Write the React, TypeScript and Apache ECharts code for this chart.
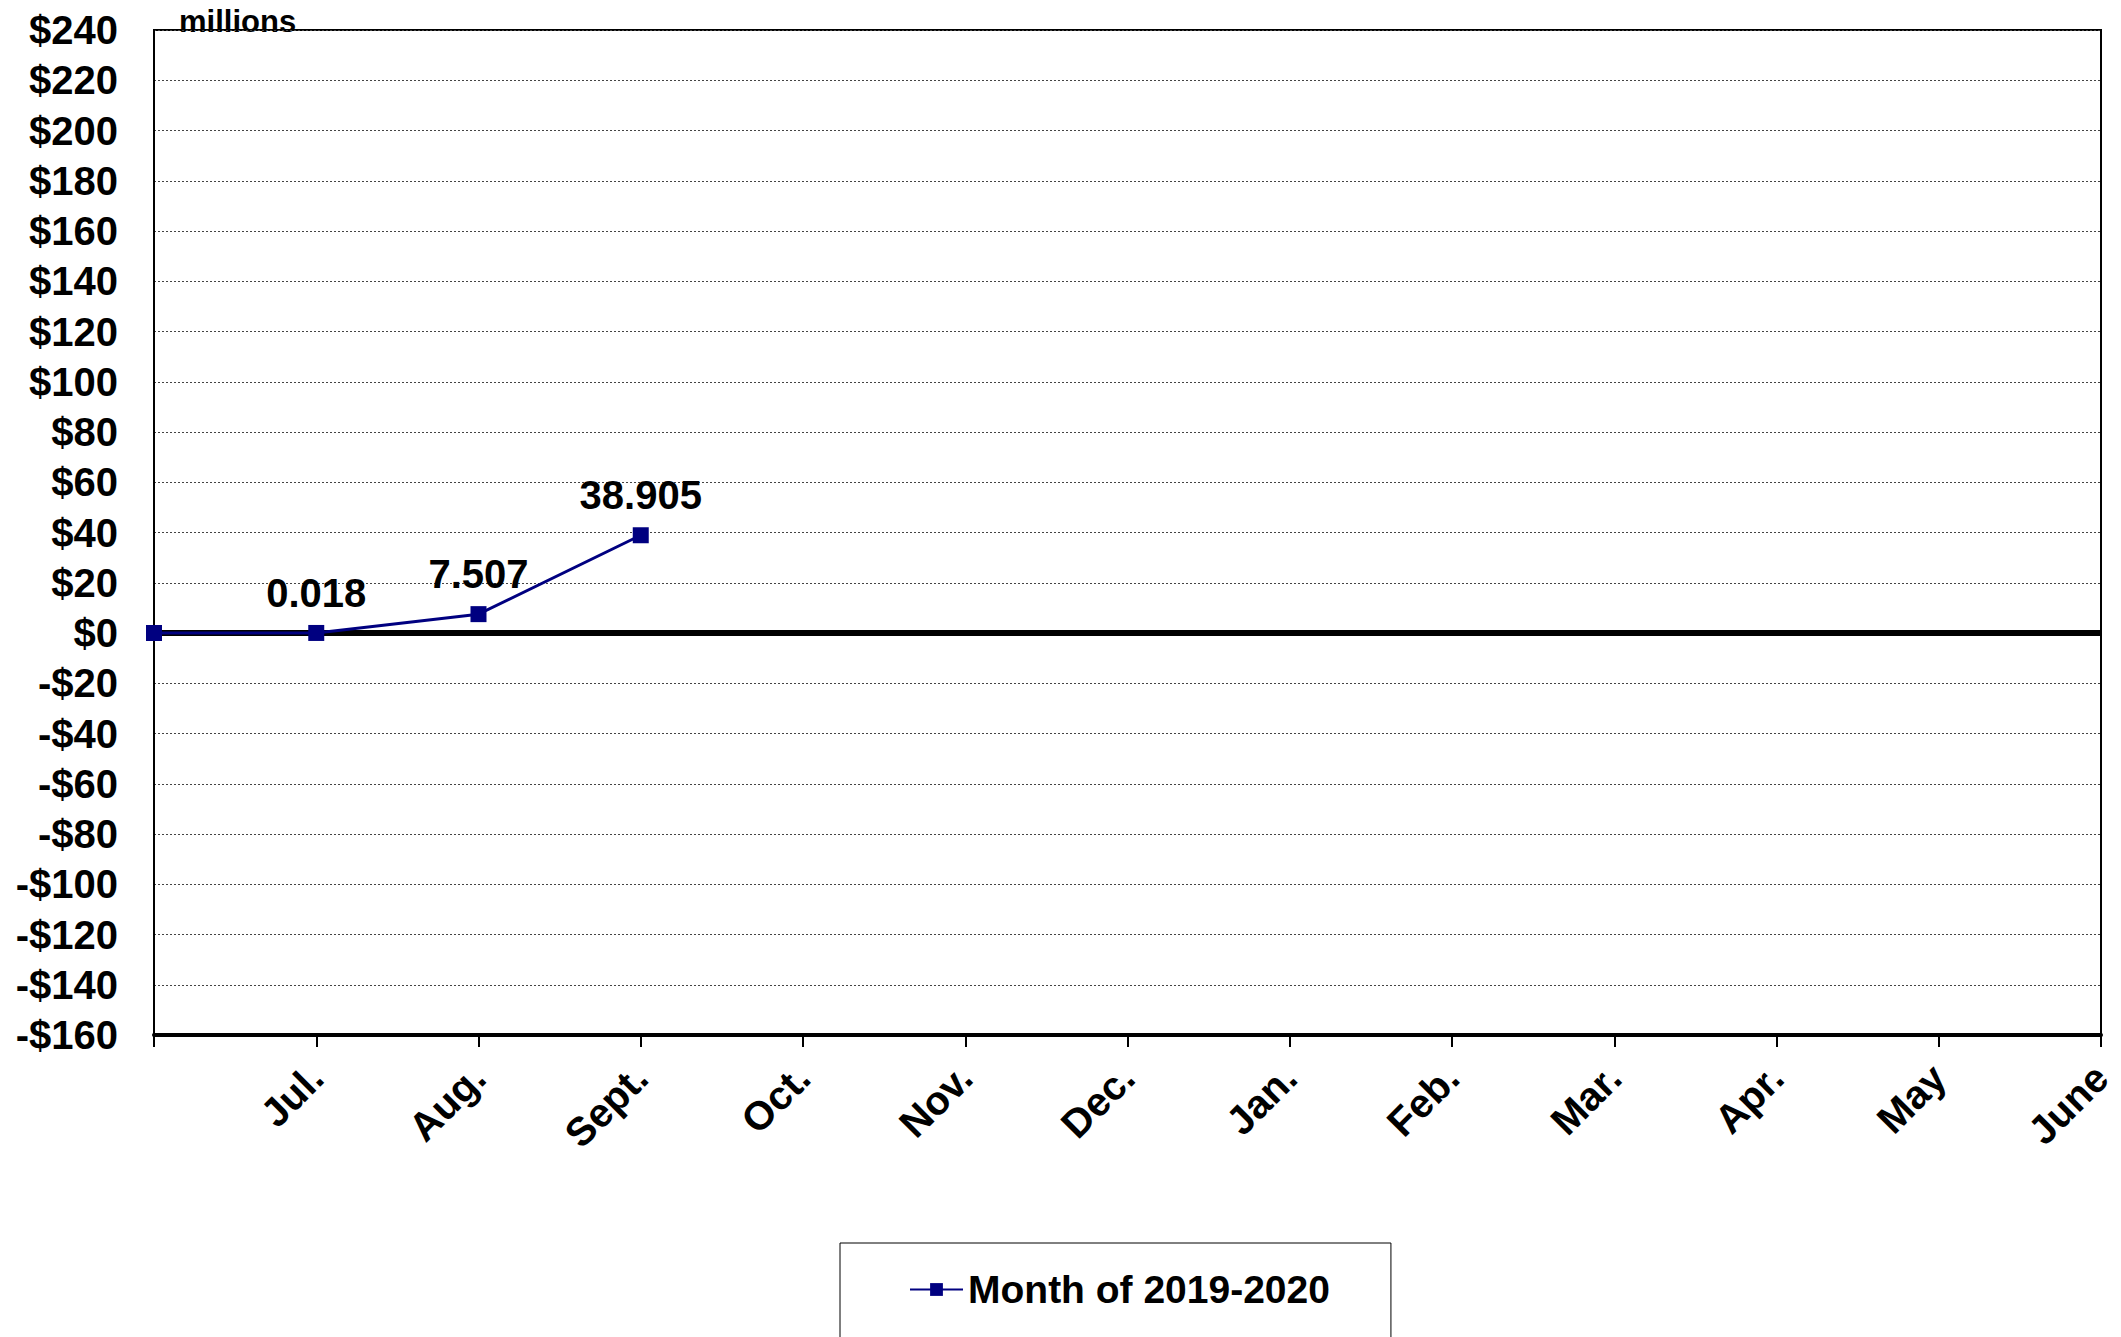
import React, { useEffect, useRef } from "react";
import * as echarts from "echarts";

const categories = ["", "Jul.", "Aug.", "Sept.", "Oct.", "Nov.", "Dec.", "Jan.", "Feb.", "Mar.", "Apr.", "May", "June"];
const values: (number | null)[] = [0, 0.018, 7.507, 38.905, null, null, null, null, null, null, null, null, null];
const seriesName = "Month of 2019-2020";
const yMin = -160;
const yMax = 240;
const yStep = 20;

const FONT = "'Liberation Sans', Arial, sans-serif";

export default function App() {
  const ref = useRef<HTMLDivElement>(null);
  useEffect(() => {
    if (!ref.current) return;
    const chart = echarts.init(ref.current, null, { renderer: "svg" });
    chart.setOption({
      animation: false,
      backgroundColor: "#ffffff",
      textStyle: { fontFamily: FONT },
      grid: {
        left: 154,
        right: 20,
        top: 30,
        bottom: 302,
        show: true,
        borderColor: "#000",
        borderWidth: 2,
        backgroundColor: "transparent",
      },
      legend: {
        left: 840,
        top: 1243,
        width: 551,
        data: [seriesName],
        borderColor: "#000",
        borderWidth: 1,
        padding: [27, 61, 80, 69],
        itemWidth: 53,
        itemHeight: 16,
        itemGap: 0,
        textStyle: { fontFamily: FONT, fontWeight: "bold", fontSize: 39, color: "#000" },
      },
      graphic: [
        {
          type: "text",
          left: 179,
          top: 6,
          style: { text: "millions", fontFamily: FONT, fontWeight: "bold", fontSize: 31, fill: "#000" },
        },
      ],
      xAxis: {
        type: "category",
        data: categories,
        boundaryGap: false,
        axisLine: { show: true, onZero: false, lineStyle: { color: "#000", width: 4 } },
        axisTick: { show: true, length: 12, lineStyle: { color: "#000", width: 2 }, interval: 0 },
        axisLabel: {
          interval: 0,
          rotate: 45,
          margin: 36,
          fontFamily: FONT,
          fontWeight: "bold",
          fontSize: 40,
          color: "#000",
        },
        splitLine: { show: false },
      },
      yAxis: {
        type: "value",
        min: yMin,
        max: yMax,
        interval: yStep,
        axisLine: { show: true, lineStyle: { color: "#000", width: 2 } },
        axisTick: { show: false },
        axisLabel: {
          margin: 36,
          fontFamily: FONT,
          fontWeight: "bold",
          fontSize: 40,
          color: "#000",
          formatter: (v: number) => (v < 0 ? "-$" + Math.abs(v) : "$" + v),
        },
        splitLine: { show: true, lineStyle: { color: "#444", width: 1, type: [2, 2] } },
      },
      series: [
        {
          name: seriesName,
          type: "line",
          data: values.map((v, i) =>
            i === 0 ? { value: v, label: { show: false } } : v
          ),
          connectNulls: false,
          symbol: "rect",
          symbolSize: 16,
          color: "#000080",
          lineStyle: { color: "#000080", width: 3 },
          itemStyle: { color: "#000080" },
          label: {
            show: true,
            position: "top",
            distance: 12,
            fontFamily: FONT,
            fontWeight: "bold",
            fontSize: 40,
            color: "#000",
            formatter: (p: any) => (p.value == null ? "" : String(p.value)),
          },
          markLine: {
            silent: true,
            symbol: "none",
            label: { show: false },
            lineStyle: { color: "#000", width: 6, type: "solid" },
            data: [{ yAxis: 0 }],
          },
          z: 5,
        },
      ],
    });
    return () => chart.dispose();
  }, []);
  return (
    <div
      ref={ref}
      style={{ position: "fixed", left: 0, top: 0, width: 2121, height: 1337 }}
    />
  );
}
